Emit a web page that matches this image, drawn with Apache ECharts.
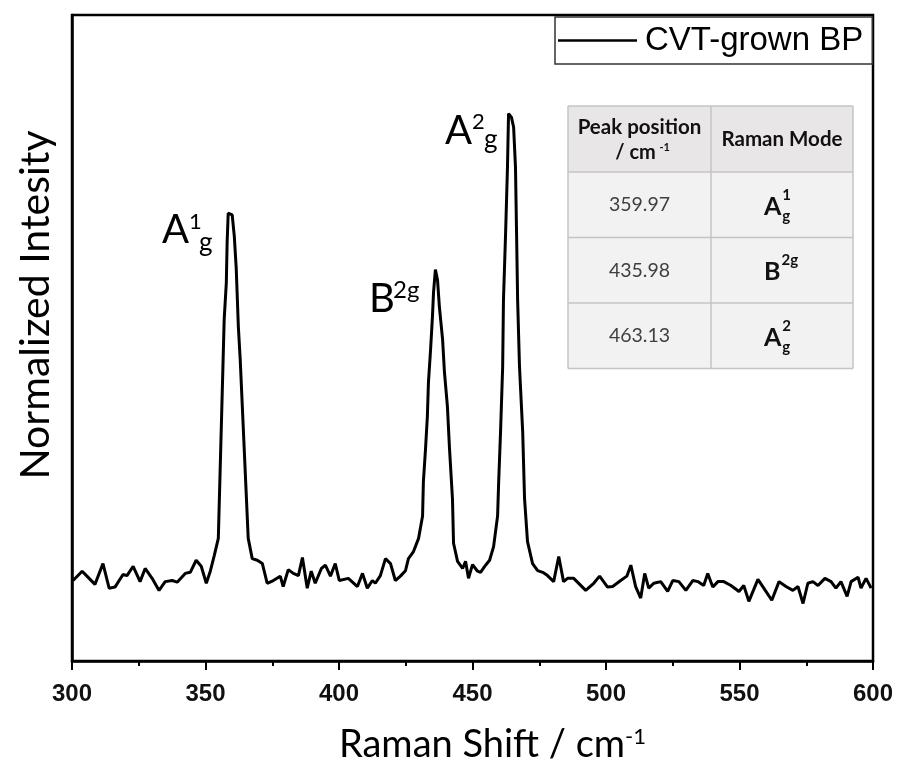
<!DOCTYPE html>
<html><head><meta charset="utf-8">
<script src="https://cdn.jsdelivr.net/npm/echarts@6/dist/echarts.min.js"></script>
<style>html,body{margin:0;padding:0;background:#fff}#c{width:899px;height:769px}</style>
</head><body><div id="c"></div>
<script>
// ---- data ----
const ramanShift = [300.4,303.8,305.6,308.6,311.6,313.9,316.1,319.1,320.6,322.9,325.5,327.4,330.0,332.6,334.9,337.5,339.4,342.4,344.3,346.5,348.4,350.3,351.8,353.3,354.8,356.6,357.0,357.8,358.1,358.5,360.0,360.8,361.5,361.9,362.3,363.0,366.0,367.5,369.4,371.3,373.1,375.4,378.0,379.1,381.0,382.9,384.8,386.3,388.1,389.6,391.1,393.4,394.9,396.8,398.6,400.1,403.5,406.9,408.8,410.6,412.5,413.6,415.5,417.4,419.3,421.1,423.0,424.9,426.0,427.9,429.8,431.3,431.6,432.4,433.1,433.5,434.3,435.0,435.4,436.1,436.9,437.6,438.8,439.5,440.6,441.4,442.5,442.9,444.4,446.3,447.4,448.5,450.0,451.9,453.0,454.9,456.4,457.9,459.4,459.8,460.5,461.3,461.6,462.4,463.1,463.5,464.6,465.4,466.1,466.5,466.9,467.6,468.8,469.5,470.6,472.5,474.4,476.3,478.1,480.4,482.3,484.1,485.6,487.9,492.4,495.4,497.6,500.6,502.5,505.5,507.8,509.3,511.1,513.0,514.5,516.0,517.9,520.5,523.1,525.0,527.3,529.9,532.5,534.4,536.6,538.1,540.0,541.9,544.1,546.8,549.8,551.6,553.5,556.9,559.1,562.1,564.8,567.4,570.0,571.9,573.8,575.6,577.5,579.4,582.0,584.3,586.1,588.0,590.3,591.8,594.4,595.5,597.4,599.3];
const intensity = [0.147,0.164,0.155,0.140,0.178,0.133,0.135,0.158,0.156,0.173,0.145,0.169,0.151,0.129,0.145,0.147,0.144,0.160,0.162,0.184,0.173,0.142,0.164,0.193,0.224,0.551,0.624,0.691,0.764,0.818,0.815,0.775,0.718,0.665,0.611,0.551,0.224,0.187,0.184,0.178,0.142,0.147,0.155,0.136,0.167,0.160,0.156,0.189,0.133,0.164,0.142,0.169,0.175,0.155,0.178,0.147,0.151,0.136,0.160,0.133,0.147,0.142,0.156,0.187,0.178,0.147,0.155,0.165,0.187,0.200,0.224,0.265,0.327,0.387,0.447,0.509,0.569,0.629,0.673,0.715,0.696,0.647,0.587,0.527,0.465,0.387,0.296,0.215,0.182,0.169,0.182,0.151,0.176,0.164,0.162,0.175,0.184,0.209,0.265,0.327,0.418,0.538,0.660,0.782,0.902,1.000,0.993,0.975,0.902,0.782,0.660,0.538,0.418,0.296,0.218,0.178,0.165,0.162,0.156,0.145,0.191,0.145,0.151,0.151,0.129,0.142,0.155,0.135,0.136,0.147,0.155,0.175,0.136,0.115,0.160,0.133,0.142,0.145,0.127,0.147,0.145,0.129,0.147,0.145,0.138,0.160,0.135,0.145,0.145,0.138,0.127,0.138,0.109,0.149,0.133,0.111,0.145,0.136,0.129,0.136,0.105,0.142,0.145,0.138,0.151,0.145,0.133,0.145,0.118,0.145,0.153,0.133,0.151,0.133];
const seriesName = 'CVT-grown BP';
const xMin = 300, xMax = 600, xStep = 50;
const peakPositions = ['359.97', '435.98', '463.13'];
const modeBase = ['A', 'B', 'A'];
const modeSup = ['1', '2g', '2'];
const modeSub = ['g', '', 'g'];
const tableHeader = ['Peak position', 'Raman Mode'];
const headerUnit = ['/ cm', '-1'];
const axisTitleX = 'Raman Shift / cm';
const axisTitleXSup = '-1';
const axisTitleY = 'Normalized Intesity';

// ---- layout / styling ----
const chart = echarts.init(document.getElementById('c'), null, {renderer: 'canvas'});
const F = 'Lato';
const mctx = document.createElement('canvas').getContext('2d');
function tw(text, font) { mctx.font = font; return mctx.measureText(text).width; }
const graphics = [];
function txt(x, y, text, size, weight, align, fill, family) {
  graphics.push({type: 'text', x: x, y: y, silent: true, z: 100,
    style: {text: text, fontSize: size, fontWeight: weight || 'normal', fontFamily: family || F,
      fill: fill || '#000', align: align || 'left', verticalAlign: 'middle'}});
}
// table
const T = {l: 568, r: 853, mid: 711, top: 106, head: 172, rowH: 65.5};
graphics.push({type: 'rect', shape: {x: T.l, y: T.top, width: T.r - T.l, height: T.head - T.top}, style: {fill: '#e8e6e6'}, z: 90});
graphics.push({type: 'rect', shape: {x: T.l, y: T.head, width: T.r - T.l, height: T.rowH * 3}, style: {fill: '#f2f2f2'}, z: 90});
const lineStyle = {stroke: '#c4c4c4', lineWidth: 1.5};
const yLines = [T.top, T.head, T.head + T.rowH, T.head + 2 * T.rowH, T.head + 3 * T.rowH];
yLines.forEach(y => graphics.push({type: 'line', shape: {x1: T.l, y1: y, x2: T.r, y2: y}, style: lineStyle, z: 91}));
[T.l, T.mid, T.r].forEach(x => graphics.push({type: 'line', shape: {x1: x, y1: T.top, x2: x, y2: T.head + 3 * T.rowH}, style: lineStyle, z: 91}));
const c1 = (T.l + T.mid) / 2, c2 = (T.mid + T.r) / 2;
txt(c1, 127, tableHeader[0], 20.5, 'bold', 'center', '#111');
txt(c1 - 4, 153, headerUnit[0], 20, 'bold', 'center', '#111');
txt(c1 + 20, 147, headerUnit[1], 11, 'bold', 'left', '#111');
txt(c2, 139, tableHeader[1], 20.5, 'bold', 'center', '#111');
peakPositions.forEach((p, i) => {
  const cy = T.head + T.rowH * (i + 0.5);
  txt(c1, cy, p, 19.5, 'normal', 'center', '#404040');
  const bx = 764, bw = tw(modeBase[i], 'bold 25px Lato');
  txt(bx, cy + 2, modeBase[i], 25, 'bold', 'left', '#111');
  txt(bx + bw + 1, cy - 10, modeSup[i], 15, 'bold', 'left', '#111');
  if (modeSub[i]) txt(bx + bw + 1, cy + 11, modeSub[i], 15, 'bold', 'left', '#111');
});
// peak annotations
txt(162, 230, 'A', 40); txt(189, 222, '1', 22); txt(199, 243, 'g', 26);
txt(445, 131, 'A', 40); txt(472, 122, '2', 22); txt(484, 140, 'g', 26);
txt(369, 299, 'B', 40); txt(393, 290, '2g', 24);

const option = {
  animation: false,
  backgroundColor: '#fff',
  grid: {left: 72, right: 26, top: 15, bottom: 106, show: true, borderColor: '#000', borderWidth: 2.5, backgroundColor: 'transparent'},
  legend: {
    data: [{name: seriesName, icon: 'rect'}], left: 555, top: 17, orient: 'horizontal',
    padding: [7, 9, 7, 3], itemWidth: 79, itemHeight: 2.5, itemGap: 0,
    borderColor: '#333', borderWidth: 1.5, backgroundColor: '#fff',
    itemStyle: {color: '#000', borderWidth: 0},
    textStyle: {fontFamily: 'Liberation Sans', fontSize: 33, color: '#000', padding: [0, 0, 0, 3]},
    z: 50
  },
  xAxis: {
    type: 'value', min: xMin, max: xMax, interval: xStep,
    axisLine: {show: true, onZero: false, lineStyle: {color: '#000', width: 2.5}},
    axisTick: {show: true, inside: false, length: 9, lineStyle: {color: '#000', width: 2}},
    minorTick: {show: true, splitNumber: 2, length: 5, lineStyle: {color: '#000', width: 2}},
    splitLine: {show: false},
    axisLabel: {fontFamily: 'Liberation Sans', fontWeight: 'bold', fontSize: 24, color: '#111', margin: 21},
    name: axisTitleX + '{sup|' + axisTitleXSup + '}', nameLocation: 'middle', nameGap: 65,
    nameTextStyle: {fontFamily: F, fontSize: 38, color: '#000', padding: [0, 0, 0, 40],
      rich: {sup: {fontFamily: F, fontSize: 22, verticalAlign: 'top', color: '#000'}}}
  },
  yAxis: {
    type: 'value', min: 0, max: 1.18,
    axisLine: {show: true, lineStyle: {color: '#000', width: 2.5}},
    axisTick: {show: false}, axisLabel: {show: false}, splitLine: {show: false},
    name: axisTitleY, nameLocation: 'middle', nameGap: 16,
    nameTextStyle: {fontFamily: F, fontSize: 41, color: '#000', padding: [0, 0, 0, 66]}
  },
  series: [{
    name: seriesName, type: 'line', symbol: 'none', showSymbol: false,
    data: ramanShift.map((x, i) => [x, intensity[i]]),
    lineStyle: {color: '#000', width: 3}, itemStyle: {color: '#000'}
  }],
  graphic: graphics
};
chart.setOption(option);
</script></body></html>
